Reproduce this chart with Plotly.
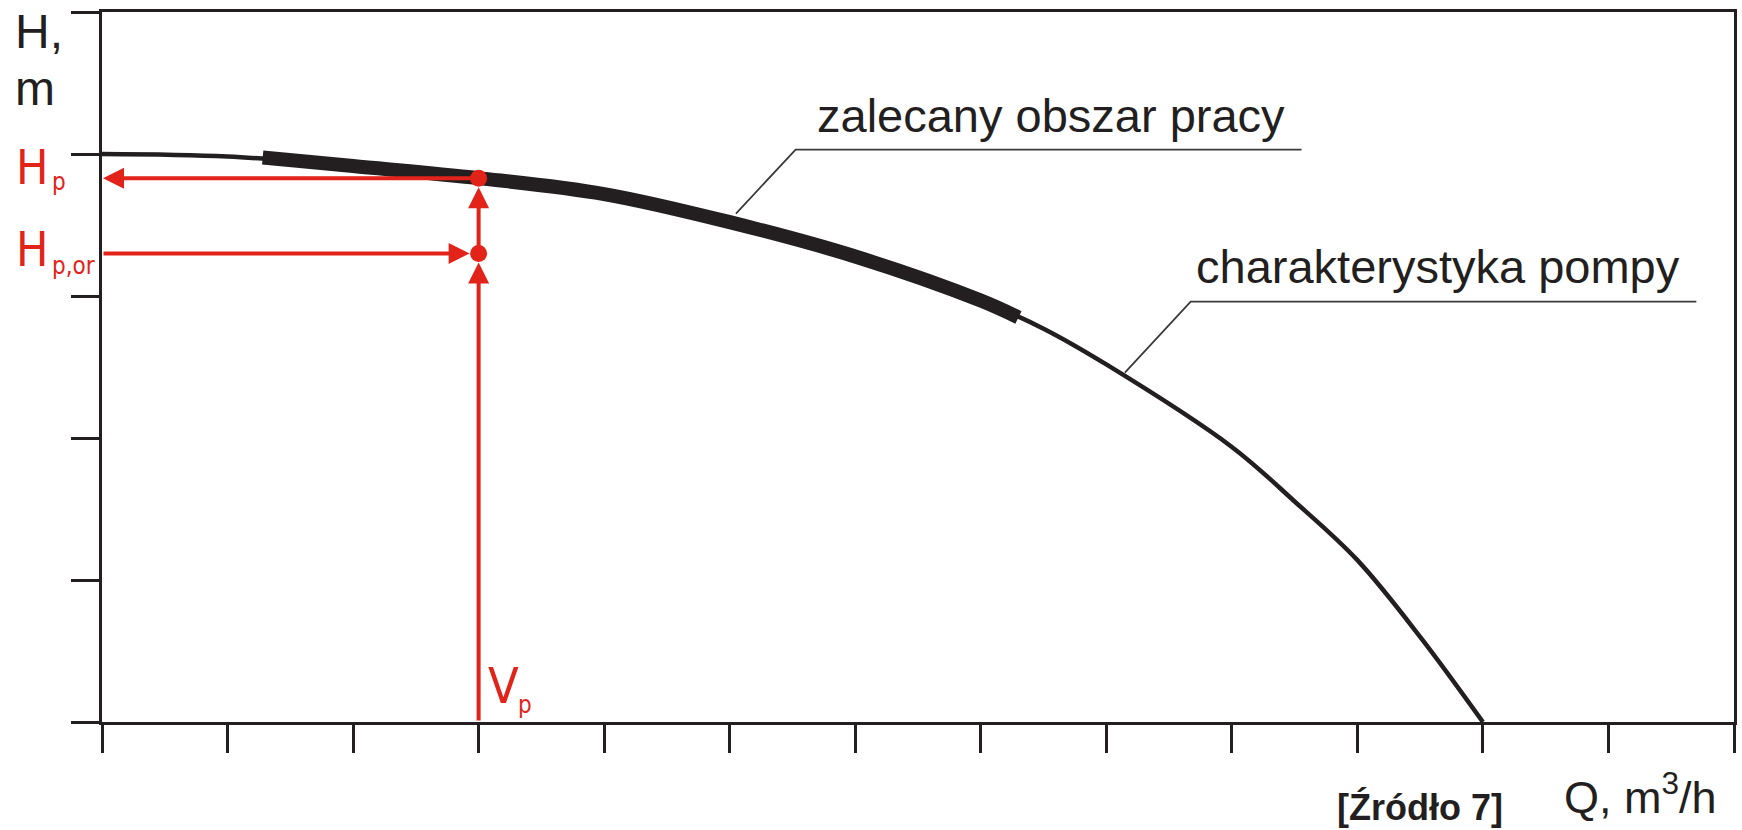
import plotly.graph_objects as go

# ---- data (axis units: one unit = one tick interval) ----
x_ticks = list(range(0, 14))
y_ticks = list(range(0, 6))

# pump characteristic H(Q)
Q_curve = [0, 1, 2, 3, 4, 5, 6, 7, 7.5, 8, 9, 9.5, 10, 10.5, 11]
H_curve = [4.0, 3.982, 3.915, 3.83, 3.718, 3.52, 3.278, 2.968, 2.77, 2.518, 1.937, 1.553, 1.14, 0.6, 0.0]

# recommended operating range (thick part of the curve)
Q_rec = [1.28, 2, 3, 4, 5, 6, 7, 7.3]
H_rec = [3.975, 3.915, 3.83, 3.718, 3.52, 3.278, 2.968, 2.849]

# operating point
Vp = 3.0
Hp = 3.83
Hp_or = 3.30

# labels
label_rec = "zalecany obszar pracy"
label_char = "charakterystyka pompy"
y_title = ["H,", "m"]
x_title = "Q, m<sup>3</sup>/h"
source = "[Źródło 7]"

# leader lines (curve anchor -> elbow -> end), axis units
leader_rec = [(5.05, 3.58), (5.525, 4.031), (9.555, 4.031)]
leader_char = [(8.148, 2.461), (8.672, 2.961), (12.70, 2.961)]

BLACK = "#231F20"
RED = "#E2231A"
FONT = "Liberation Sans, Arial, sans-serif"
RED_FONT = "Liberation Sans Narrow, DejaVu Sans Condensed, Liberation Sans, sans-serif"

fig = go.Figure()

fig.add_trace(go.Scatter(x=Q_curve, y=H_curve, mode="lines",
                         line=dict(color=BLACK, width=4.5, shape="spline", smoothing=1.0),
                         hoverinfo="skip", showlegend=False))
fig.add_trace(go.Scatter(x=Q_rec, y=H_rec, mode="lines",
                         line=dict(color=BLACK, width=14, shape="spline", smoothing=1.0),
                         hoverinfo="skip", showlegend=False))

# leader lines
for pts in (leader_rec, leader_char):
    fig.add_trace(go.Scatter(x=[p[0] for p in pts], y=[p[1] for p in pts], mode="lines",
                             line=dict(color="#3a3a3a", width=1.8),
                             hoverinfo="skip", showlegend=False))

# operating point dots
fig.add_trace(go.Scatter(x=[Vp, Vp], y=[Hp, Hp_or], mode="markers",
                         marker=dict(color=RED, size=17, line=dict(width=0)),
                         hoverinfo="skip", showlegend=False))

arrow_common = dict(showarrow=True, arrowhead=2, arrowsize=1.05, arrowwidth=4,
                    arrowcolor=RED, text="", axref="x", ayref="y", xref="x", yref="y")
annotations = [
    # Hp -> y axis
    dict(x=0, y=Hp, ax=Vp, ay=Hp, standoff=1, **arrow_common),
    # y axis -> Hp,or point
    dict(x=Vp, y=Hp_or, ax=0, ay=Hp_or, standoff=9, **arrow_common),
    # Q axis -> Hp,or point
    dict(x=Vp, y=Hp_or, ax=Vp, ay=0, standoff=9, **arrow_common),
    # Hp,or -> Hp
    dict(x=Vp, y=Hp, ax=Vp, ay=Hp_or, standoff=9, **arrow_common),
]

def txt(text, x, y, size, color=BLACK, xref="x", yref="y", xanchor="left", bold=False, family=FONT):
    return dict(text=f"<b>{text}</b>" if bold else text, x=x, y=y, xref=xref, yref=yref,
                xanchor=xanchor, yanchor="middle", showarrow=False,
                font=dict(family=family, size=size, color=color))

annotations += [
    txt(label_rec, 5.676, 4.268, 47),
    txt(label_char, 8.697, 3.211, 47),
    txt(y_title[0], -0.0547, 0.9725, 48, xref="paper", yref="paper"),
    txt(y_title[1], -0.0547, 0.8923, 48, xref="paper", yref="paper"),
    # red labels
    txt("H", -0.0538, 3.912, 48, color=RED, xref="paper", family=RED_FONT),
    txt("p", -0.0320, 3.80, 24, color=RED, xref="paper", family=RED_FONT),
    txt("H", -0.0538, 3.334, 48, color=RED, xref="paper", family=RED_FONT),
    txt("p,or", -0.0320, 3.208, 24, color=RED, xref="paper", family=RED_FONT),
    txt("V", 3.06, 0.257, 50, color=RED, family=RED_FONT),
    txt("p", 3.30, 0.123, 24, color=RED, family=RED_FONT),
    # axis title and source
    txt(x_title, 0.8948, -0.1021, 45, xref="paper", yref="paper"),
    txt(source, 0.8073, -0.1204, 36, xref="paper", yref="paper", xanchor="center", bold=True),
]

axis_common = dict(showgrid=False, zeroline=False, showticklabels=False,
                   ticks="outside", ticklen=28, tickwidth=3, tickcolor=BLACK,
                   showline=True, linewidth=3, linecolor=BLACK, mirror=True)

fig.update_layout(
    width=1742, height=830,
    margin=dict(l=102, r=5, t=12, b=108),
    paper_bgcolor="white", plot_bgcolor="white",
    xaxis=dict(range=[0, 13], tickvals=x_ticks, **axis_common),
    yaxis=dict(range=[0, 5], tickvals=y_ticks, **axis_common),
    annotations=annotations,
    showlegend=False,
)

fig.write_html("out.html", config={"displayModeBar": False},
               post_script="document.body.style.margin='0px';")
